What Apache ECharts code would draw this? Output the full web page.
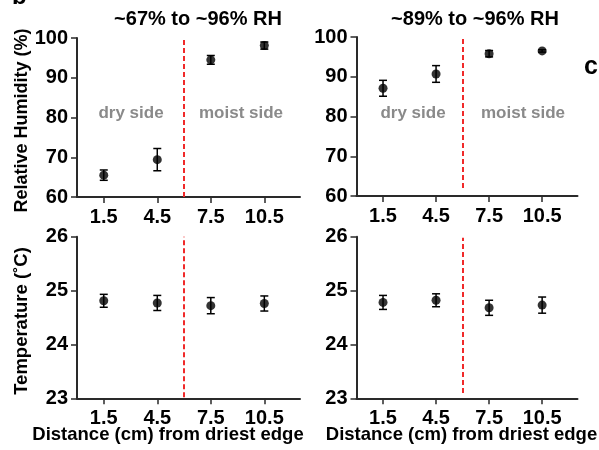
<!DOCTYPE html>
<html><head><meta charset="utf-8">
<script src="https://cdn.jsdelivr.net/npm/echarts@6/dist/echarts.min.js"></script>
<style>html,body{margin:0;padding:0;background:#fff}#c{width:599px;height:450px}</style>
</head><body><div id="c"></div>
<script>
const distances = [1.5, 4.5, 7.5, 10.5];
const tickLabelsX = ['1.5', '4.5', '7.5', '10.5'];
const rhDry67 = [65.5, 69.4, 94.5, 98.1];
const rhDry67Err = [1.3, 2.8, 1.1, 0.9];
const rhDry89 = [87.1, 90.7, 95.8, 96.5];
const rhDry89Err = [2.0, 2.1, 0.8, 0.3];
const temp67 = [24.81, 24.77, 24.72, 24.76];
const temp67Err = [0.12, 0.14, 0.15, 0.14];
const temp89 = [24.78, 24.82, 24.68, 24.73];
const temp89Err = [0.13, 0.12, 0.14, 0.15];
const dividerX = 6;
const panelTitles = ['~67% to ~96% RH', '~89% to ~96% RH'];

const FONT = '"Liberation Sans", Arial, sans-serif';
const AXC = '#2a2a2a';

function xAxis(gi){
  return {type:'value', gridIndex:gi, min:0, max:12.5,
    axisLine:{lineStyle:{color:AXC, width:2}},
    axisTick:{show:true, length:6, lineStyle:{color:AXC, width:1.5}, customValues:distances},
    axisLabel:{customValues:distances, formatter:v=>tickLabelsX[distances.indexOf(v)] ?? '', color:'#000', fontSize:20, fontWeight:'bold', fontFamily:FONT, margin:10},
    splitLine:{show:false}};
}
function yAxis(gi, min, max, interval){
  return {type:'value', gridIndex:gi, min, max, interval,
    axisLine:{show:true, lineStyle:{color:AXC, width:2}},
    axisTick:{show:true, length:6, lineStyle:{color:AXC, width:1.5}},
    axisLabel:{color:'#000', fontSize:20, fontWeight:'bold', fontFamily:FONT, margin:9},
    splitLine:{show:false}};
}
function errSeries(gi, vals, errs){
  return {type:'custom', xAxisIndex:gi, yAxisIndex:gi, silent:true,
    data: distances.map((x,i)=>[x, vals[i]-errs[i], vals[i]+errs[i]]),
    renderItem:(params, api)=>{
      const lo = api.coord([api.value(0), api.value(1)]);
      const hi = api.coord([api.value(0), api.value(2)]);
      const w = 4;
      const st = {stroke:'#000', lineWidth:1.5};
      return {type:'group', children:[
        {type:'line', shape:{x1:lo[0], y1:lo[1], x2:hi[0], y2:hi[1]}, style:st},
        {type:'line', shape:{x1:lo[0]-w, y1:lo[1], x2:lo[0]+w, y2:lo[1]}, style:st},
        {type:'line', shape:{x1:hi[0]-w, y1:hi[1], x2:hi[0]+w, y2:hi[1]}, style:st}
      ]};
    }, z:3};
}
function ptSeries(gi, vals, ylo, yhi){
  return {type:'scatter', xAxisIndex:gi, yAxisIndex:gi, silent:true,
    symbol:'circle', symbolSize:9, itemStyle:{color:'#000'},
    data: distances.map((x,i)=>[x, vals[i]]), z:4,
    markLine:{silent:true, symbol:'none', label:{show:false},
      lineStyle:{color:'#f02a2a', width:2, type:[5,3]},
      data:[[{coord:[dividerX, ylo]},{coord:[dividerX, yhi]}]]}};
}

const chart = echarts.init(document.getElementById('c'), null, {renderer:'canvas'});
const txt = (text, x, y, size, color, align, extra) => Object.assign({type:'text', x, y, silent:true,
  style:{text, fill:color, font:'bold '+size+'px '+FONT, textAlign:align||'center', textVerticalAlign:'middle'}}, extra||{});

chart.setOption({
  backgroundColor:'#fff',
  animation:false,
  grid:[
    {left:77, top:38, width:223, height:159},
    {left:356.5, top:37, width:221, height:159},
    {left:77, top:236.7, width:223, height:161.6},
    {left:356.5, top:236.7, width:221, height:161.6}
  ],
  xAxis:[xAxis(0), xAxis(1), xAxis(2), xAxis(3)],
  yAxis:[yAxis(0,60,100,10), yAxis(1,60,100,10), yAxis(2,23,26,1), yAxis(3,23,26,1)],
  series:[
    errSeries(0, rhDry67, rhDry67Err), ptSeries(0, rhDry67, 60, 100),
    errSeries(1, rhDry89, rhDry89Err), ptSeries(1, rhDry89, 62, 100),
    errSeries(2, temp67, temp67Err), ptSeries(2, temp67, 23.02, 26),
    errSeries(3, temp89, temp89Err), ptSeries(3, temp89, 23.1, 25.98)
  ],
  graphic:[
    txt(panelTitles[0], 198, 19, 20, '#000'),
    txt(panelTitles[1], 475, 19, 20, '#000'),
    txt('dry side', 131, 113, 17, '#8a8a8a'),
    txt('moist side', 241, 113, 17, '#8a8a8a'),
    txt('dry side', 413, 113, 17, '#8a8a8a'),
    txt('moist side', 523, 113, 17, '#8a8a8a'),
    txt('Distance (cm) from driest edge', 168, 435, 18.5, '#000'),
    txt('Distance (cm) from driest edge', 461.5, 435, 18.5, '#000'),
    txt('Relative Humidity (%)', 22, 120.5, 18, '#000', 'center', {rotation:Math.PI/2}),
    txt('Temperature (˚C)', 22, 321, 18.5, '#000', 'center', {rotation:Math.PI/2}),
    {type:'text', x:12, y:9, silent:true, style:{text:'b', fill:'#000', font:'bold 24px '+FONT, textAlign:'left', textVerticalAlign:'bottom'}},
    {type:'text', x:584, y:67, silent:true, style:{text:'c', fill:'#000', font:'bold 25px '+FONT, textAlign:'left', textVerticalAlign:'middle'}}
  ]
});
</script></body></html>
